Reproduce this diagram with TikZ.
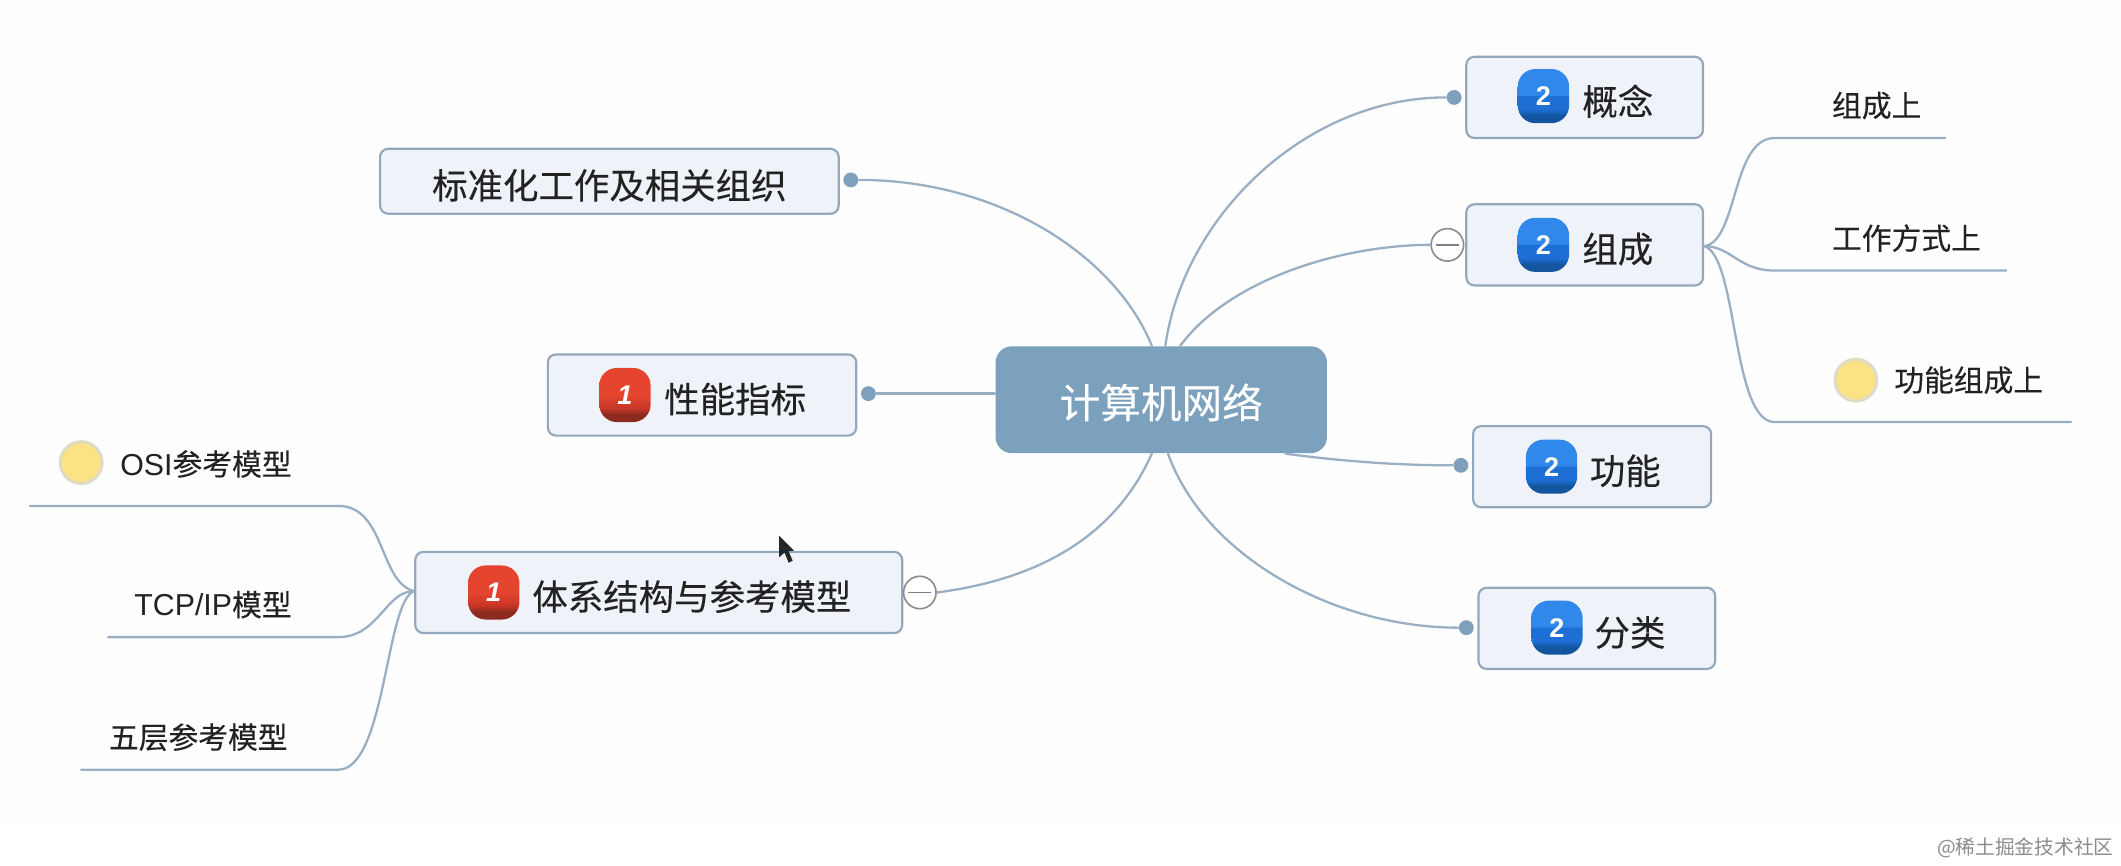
\documentclass[tikz,border=0pt]{standalone}
\usepackage{fontspec}
\setmainfont{Liberation Sans}
\newfontfamily\cjk[FakeBold=0.25]{Noto Sans CJK SC}
\newfontfamily\cjkplain{Noto Sans CJK SC}
\definecolor{linec}{HTML}{9BAFC3}
\definecolor{dotc}{HTML}{7FA0BC}
\definecolor{rootc}{HTML}{7BA1BD}
\definecolor{boxf}{HTML}{EFF3F9}
\definecolor{boxd}{HTML}{94A8BD}
\definecolor{txt}{HTML}{222222}
\definecolor{bluea}{HTML}{13559F}
\definecolor{blueb}{HTML}{1D6FD6}
\definecolor{bluec}{HTML}{2F88EA}
\definecolor{reda}{HTML}{8C2A20}
\definecolor{redb}{HTML}{C93526}
\definecolor{redc}{HTML}{E5452F}
\definecolor{yellowf}{HTML}{FBE285}
\definecolor{yellowd}{HTML}{DEDCC6}
\pgfdeclareverticalshading{bluebadge}{100bp}{
  color(0bp)=(bluea); color(32bp)=(bluea); color(38bp)=(blueb); color(50bp)=(blueb);
  color(51bp)=(bluec); color(100bp)=(bluec)}
\pgfdeclareverticalshading{redbadge}{100bp}{
  color(0bp)=(reda); color(32bp)=(reda); color(38bp)=(redb); color(50bp)=(redc);
  color(100bp)=(redc)}
\tikzset{
  conn/.style={draw=linec,line width=0.85pt,line cap=round},
  topicbox/.style={draw=boxd,fill=boxf,line width=0.8pt,rounded corners=3pt,inner sep=0pt,text=txt,text height=14.5pt,text depth=1.5pt,font=\cjk\fontsize{13.1}{15}\selectfont},
  rootbox/.style={fill=rootc,rounded corners=6pt,inner sep=0pt,text=white,text height=15.6pt,text depth=2pt,font=\cjk\fontsize{15}{18}\selectfont},
  endpoint/.style={circle,fill=dotc,inner sep=0pt,minimum size=5.5pt},
  collapse/.style={circle,draw=black!45,fill=white,line width=0.6pt,inner sep=0pt,minimum size=12pt},
  badgeb/.style={rounded corners=6.5pt,inner sep=0pt,minimum width=19pt,minimum height=20pt,shading=bluebadge,text=white,font=\bfseries\fontsize{10}{12}\selectfont},
  badger/.style={rounded corners=6.5pt,inner sep=0pt,minimum width=19pt,minimum height=20pt,shading=redbadge,text=white,font=\bfseries\itshape\fontsize{10}{12}\selectfont},
  subtext/.style={inner sep=0pt,text=txt,font=\cjk\fontsize{11}{13}\selectfont},
  yellowdot/.style={circle,fill=yellowf,draw=yellowd,line width=1.1pt,inner sep=0pt,minimum size=15.5pt},
}
\newcommand{\latinbit}[1]{{\fontspec{Liberation Sans}\fontsize{11.2}{13}\selectfont #1}}
\begin{document}
\begin{tikzpicture}[x=0.5pt,y=-0.5pt]
\useasboundingbox (0,0) rectangle (1568,639.5);
\fill[white] (0,0) rectangle (1568,639.5);
\fill[black!0.5] (0,0) rectangle (1568,607);

% nodes
\node[rootbox,minimum width=122.5pt,minimum height=39.5pt] (root) at (858.5,295.5) {计算机网络};

\node[topicbox,minimum width=169.5pt,minimum height=24pt] (std) at (450.5,134) {标准化工作及相关组织};
\node[topicbox,minimum width=114pt,minimum height=30pt] (perf) at (519,292) {\hspace{24.5pt}性能指标};
\node[topicbox,minimum width=180pt,minimum height=30pt] (arch) at (487,438) {\hspace{24.5pt}体系结构与参考模型};
\node[topicbox,minimum width=87.5pt,minimum height=30pt] (concept) at (1171.5,72) {\hspace{24.5pt}概念};
\node[topicbox,minimum width=87.5pt,minimum height=30pt] (comp) at (1171.5,181) {\hspace{24.5pt}组成};
\node[topicbox,minimum width=88pt,minimum height=30pt] (func) at (1177,345) {\hspace{24.5pt}功能};
\node[topicbox,minimum width=87.5pt,minimum height=30pt] (kind) at (1180.5,464.5) {\hspace{24.5pt}分类};

\node[badger] (bperf) at (462,292) {1};
\node[badger] (barch) at (365,438) {1};
\node[badgeb] (bconcept) at (1141,71) {2};
\node[badgeb] (bcomp) at (1141,181) {2};
\node[badgeb] (bfunc) at (1147,345) {2};
\node[badgeb] (bkind) at (1151,464) {2};

\node[endpoint] (dstd) at (629,133) {};
\node[endpoint] (dperf) at (642,291) {};
\node[endpoint] (dconcept) at (1075,72) {};
\node[endpoint] (dfunc) at (1080,344) {};
\node[endpoint] (dkind) at (1084,464) {};
\node[collapse] (ccomp) at (1070,181) {};
\node[collapse] (carch) at (680,438) {};

% free ends of the lines under the sub-topics
\coordinate (ra) at (1438,102);
\coordinate (rb) at (1483,200);
\coordinate (rc) at (1531,312);
\coordinate (la) at (22,374);
\coordinate (lb) at (80,471);
\coordinate (lc) at (60,569);
\coordinate (compr) at (1260,182);
\coordinate (archl) at (306,437);

% sub-topic texts
\node[subtext,anchor=west] (ta) at (1354,78) {组成上};
\node[subtext,anchor=west] (tb) at (1354,176) {工作方式上};
\node[subtext,anchor=west] (tc) at (1400,281) {功能组成上};
\node[yellowdot] (ya) at (1372,281) {};
\node[subtext,anchor=east] (tl1) at (216,343) {\latinbit{OSI}参考模型};
\node[subtext,anchor=east] (tl2) at (216,447) {\latinbit{TCP/IP}模型};
\node[subtext,anchor=east] (tl3) at (213,545) {五层参考模型};
\node[yellowdot] (yb) at (60,342) {};

% main connectors
\draw[conn] ([xshift=-3.5pt]root.north) .. controls (825,190) and (740,133) .. (dstd.east);
\draw[conn] ([xshift=1.5pt]root.north) .. controls (875,160) and (965,72) .. (dconcept.west);
\draw[conn] ([xshift=7pt]root.north) .. controls (910,205) and (995,181) .. (ccomp.west);
\draw[conn] (root.west |- dperf) -- (dperf.east);
\draw[conn] ([xshift=-15.5pt]root.south east) .. controls (1000,342) and (1040,344) .. (dfunc.west);
\draw[conn] ([xshift=-3.5pt]root.south) .. controls (825,395) and (770,428) .. (carch.east);
\draw[conn] ([xshift=2.5pt]root.south) .. controls (890,410) and (985,464) .. (dkind.west);

% sub-topic connectors
\draw[conn] (compr) .. controls (1285,178) and (1280,102) .. (1312,102) -- (ra);
\draw[conn] (compr) .. controls (1280,182) and (1285,200) .. (1312,200) -- (rb);
\draw[conn] (compr) .. controls (1285,190) and (1280,312) .. (1312,312) -- (rc);
\draw[conn] (archl) .. controls (280,430) and (285,374) .. (250,374) -- (la);
\draw[conn] (archl) .. controls (285,437) and (280,471) .. (250,471) -- (lb);
\draw[conn] (archl) .. controls (285,445) and (285,569) .. (250,569) -- (lc);

\draw[black!50,line width=0.7pt] ([xshift=2pt]ccomp.west) -- ([xshift=-2pt]ccomp.east);
\draw[black!50,line width=0.7pt] ([xshift=2pt]carch.west) -- ([xshift=-2pt]carch.east);

% mouse pointer
\fill[black!85] (576,396) -- (576,412) -- (580,408.5) -- (583,416) -- (586,414.5) -- (583,407.5) -- (587,407) -- cycle;

% watermark
\node[inner sep=0pt,anchor=east,text=black!45] (mark) at (1563,627) {\cjkplain\fontsize{7.3}{9}\selectfont @稀土掘金技术社区};
\end{tikzpicture}
\end{document}
